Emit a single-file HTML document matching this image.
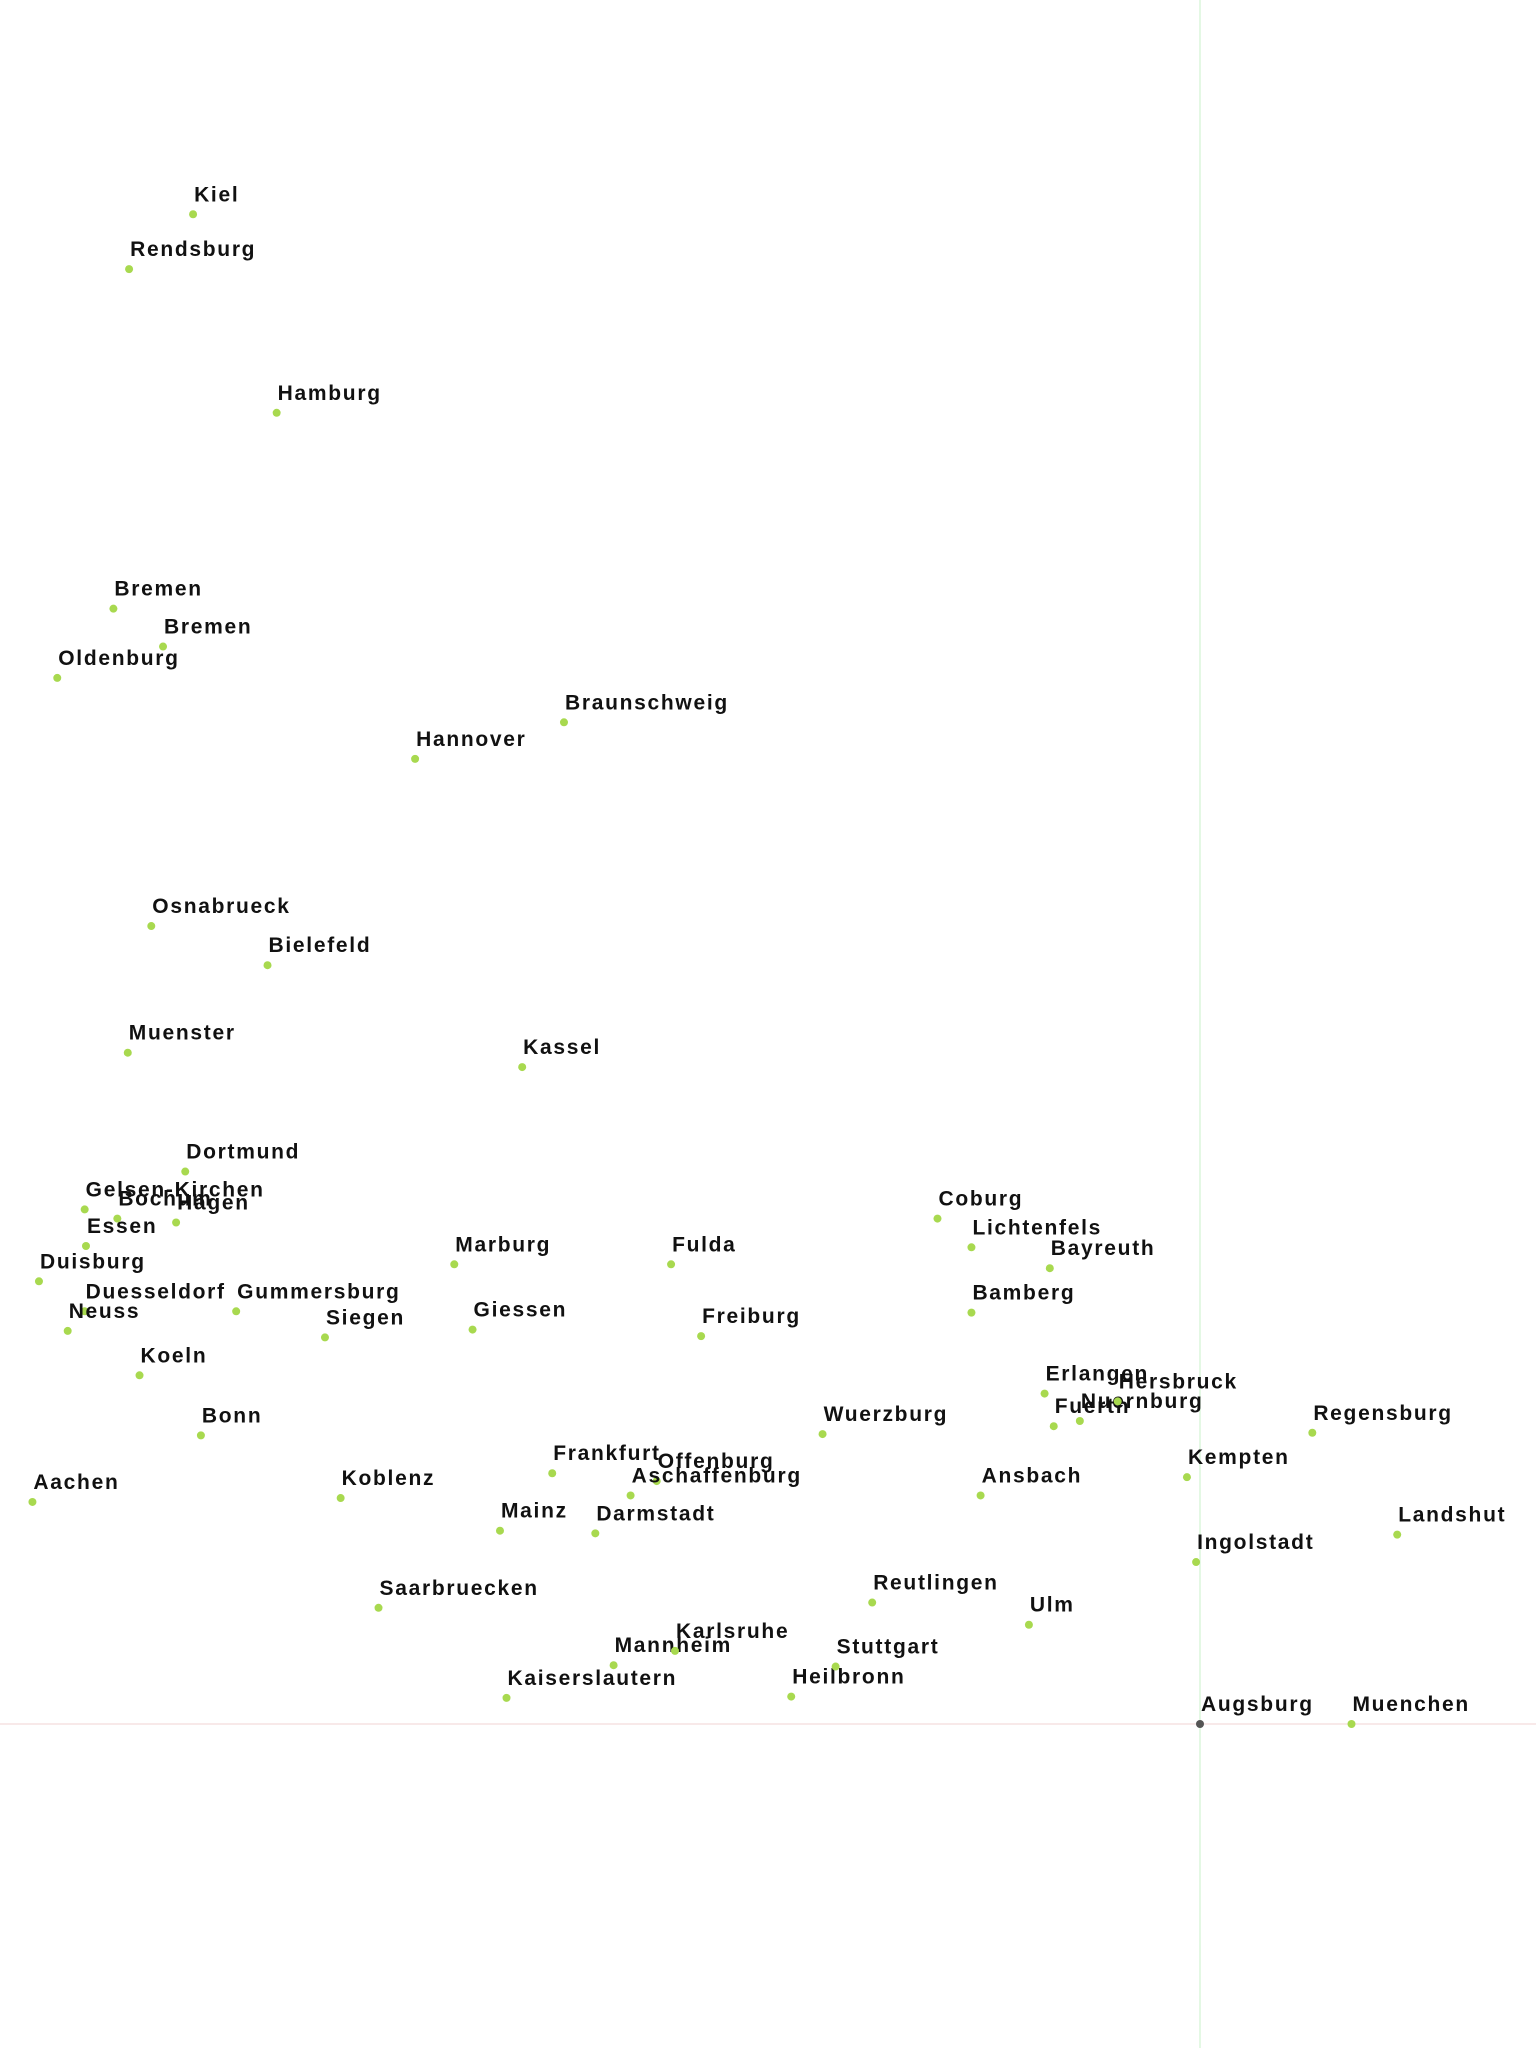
<!DOCTYPE html>
<html><head><meta charset="utf-8">
<style>
html,body{margin:0;padding:0;background:#fff;}
svg{display:block;}
text{font-family:"Liberation Sans",sans-serif;font-weight:bold;font-size:21px;letter-spacing:1.7px;fill:#111;}
</style></head>
<body>
<svg id="chart" width="1536" height="2048" viewBox="0 0 1536 2048" xmlns="http://www.w3.org/2000/svg">
<line x1="0" x2="1536" y1="1724" y2="1724" stroke="#f3dcdc" stroke-width="1.3"/>
<line x1="1200" x2="1200" y1="0" y2="2048" stroke="#d6f5d6" stroke-width="1.3"/>
<g id="points"></g>
</svg>
<script>
const cities = ["Kiel","Rendsburg","Hamburg","Bremen","Bremen","Oldenburg","Braunschweig","Hannover","Osnabrueck","Bielefeld","Muenster","Kassel","Dortmund","Gelsen-Kirchen","Bochum","Hagen","Essen","Duisburg","Duesseldorf","Gummersburg","Neuss","Siegen","Koeln","Bonn","Aachen","Koblenz","Marburg","Giessen","Fulda","Freiburg","Frankfurt","Offenburg","Aschaffenburg","Mainz","Darmstadt","Saarbruecken","Mannheim","Karlsruhe","Kaiserslautern","Heilbronn","Stuttgart","Reutlingen","Ulm","Wuerzburg","Coburg","Lichtenfels","Bayreuth","Bamberg","Erlangen","Fuerth","Nuernburg","Hersbruck","Regensburg","Kempten","Ansbach","Landshut","Ingolstadt","Augsburg","Muenchen"];
const xValues = [-771,-820,-707,-832,-794,-875,-487,-601,-803,-714,-821,-519,-777,-854,-829,-784,-853,-889,-854,-738,-867,-670,-812,-765,-894,-658,-571,-557,-405,-382,-496,-416,-436,-536,-463,-629,-449,-402,-531,-313,-279,-251,-131,-289,-201,-175,-115,-175,-119,-112,-92,-63,86,-10,-168,151,-3,0,116];
const yValues = [1156,1114,1004,854,825,801,767,739,611,581,514,503,423,394,387,384,366,339,316,316,301,296,267,221,170,173,352,302,352,297,192,186,175,148,146,89,45,56,20,21,44,93,76,222,387,365,349,315,253,228,232,247,223,189,175,145,124,0,0];

const S = 1.306, X0 = 1200, Y0 = 1724;
function xScale(v){ return X0 + v*S; }
function yScale(v){ return Y0 - v*S; }

const g = document.getElementById('points');
const NS = "http://www.w3.org/2000/svg";
for (let i = 0; i < cities.length; i++) {
  const cx = xScale(xValues[i]), cy = yScale(yValues[i]);
  const c = document.createElementNS(NS, 'circle');
  c.setAttribute('cx', cx); c.setAttribute('cy', cy); c.setAttribute('r', 4);
  c.setAttribute('fill', cities[i] === 'Augsburg' ? '#555' : '#a8d94f');
  
  
  g.appendChild(c);
  const t = document.createElementNS(NS, 'text');
  t.setAttribute('x', cx + 1); t.setAttribute('y', cy - 13);
  t.textContent = cities[i];
  
  
  g.appendChild(t);
}
</script>
</body></html>
